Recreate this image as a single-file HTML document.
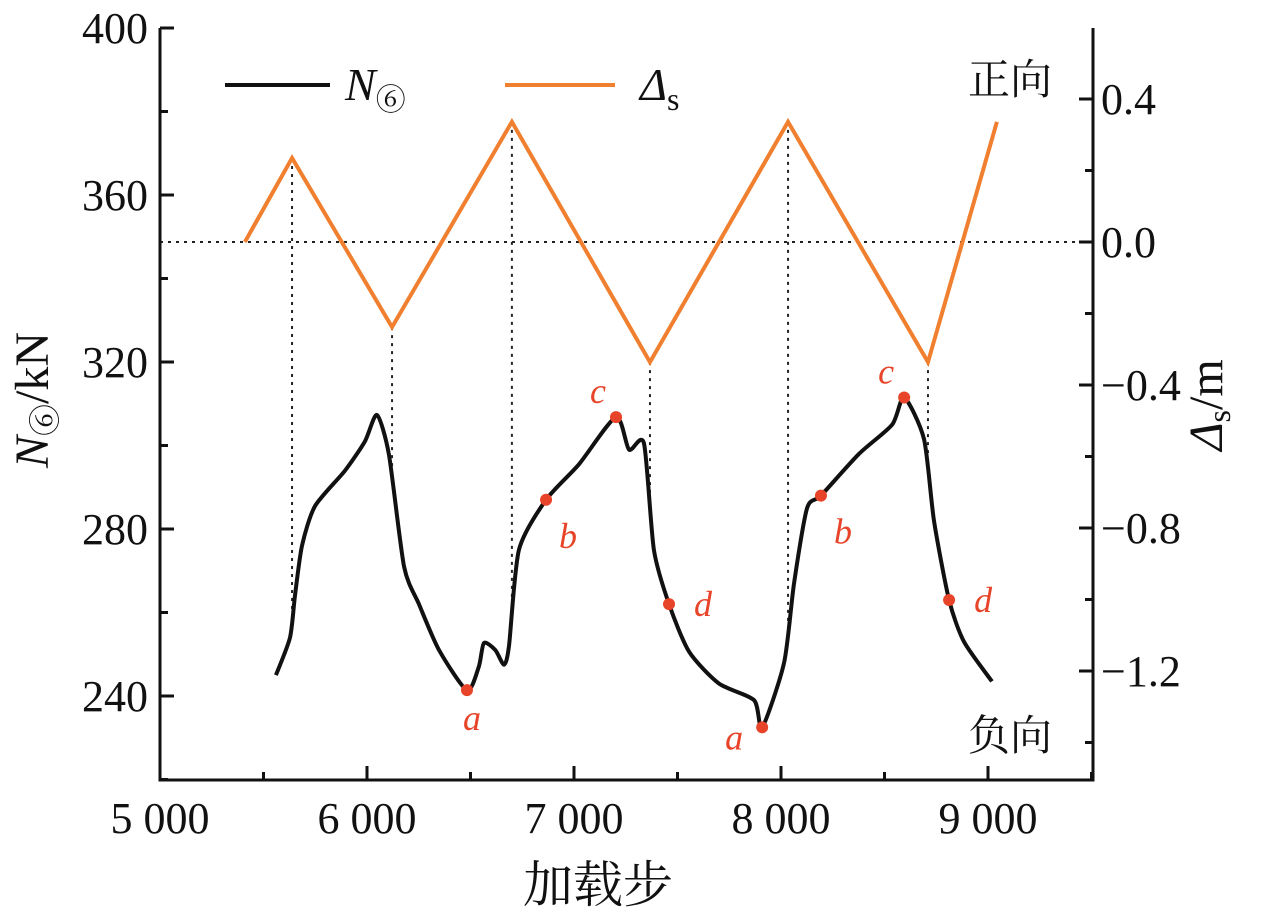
<!DOCTYPE html>
<html><head><meta charset="utf-8"><style>
body{margin:0;background:#fff}
svg text{font-family:"Liberation Serif","Noto Serif CJK SC",serif;fill:#111}
</style></head><body>
<svg id="chart" width="1266" height="911" viewBox="0 0 1266 911" xmlns="http://www.w3.org/2000/svg">
<g id="g"></g>
</svg>
<script>
const deltaSteps=[5410,5638,6121,6700,7367,8034,8710,9043];
const deltaVals=[0,0.235,-0.238,0.336,-0.336,0.336,-0.336,0.336];
const nSteps=[5560,5628,5652,5686,5749,5894,5990,6048,6106,6179,6251,6348,6483,6540,6565,6620,6662,6686,6734,6865,7024,7203,7266,7338,7386,7459,7556,7700,7870,7909,8015,8063,8126,8193,8377,8537,8595,8691,8739,8812,8884,9019];
const nVals=[245,254,264,276,285.5,294,301,307.3,297.8,271,262,251,241.4,247,252.7,251,247.5,252,275,287,295.5,306.8,299,300.5,275,262,250.6,243,239,232.5,248,267,285,288,298,305,311.5,301.5,282,263,253,243.5];
const markerSteps=[6483,6865,7203,7459,7909,8193,8595,8812];
const markerVals=[241.4,287,306.8,262,232.5,288,311.5,263];
const markerLabels=['a','b','c','d','a','b','c','d'];
const xTicks=[5000,6000,7000,8000,9000];
const xTickLabels=['5 000','6 000','7 000','8 000','9 000'];
const yTicks=[240,280,320,360,400];
const y2Ticks=[-1.2,-0.8,-0.4,0,0.4];
const y2TickLabels=['\u22121.2','\u22120.8','\u22120.4','0.0','0.4'];

const L=160,R=1093,T=28,B=780;
const X=v=>L+(v-5000)*(207/1000);
const Y=v=>696-(v-240)*(167/40);
const Y2=v=>242-v*(143/0.4);
const g=document.getElementById('g');
const NS='http://www.w3.org/2000/svg';
function mk(tag,attrs,txt){const e=document.createElementNS(NS,tag);for(const k in attrs)e.setAttribute(k,attrs[k]);if(txt!==undefined)e.textContent=txt;g.appendChild(e);return e;}
function smooth(pts){let d='M'+pts[0][0]+','+pts[0][1];const k=0.12;for(let i=0;i<pts.length-1;i++){const p0=pts[i-1]||pts[i],p1=pts[i],p2=pts[i+1],p3=pts[i+2]||p2;d+=` C${p1[0]+(p2[0]-p0[0])*k},${p1[1]+(p2[1]-p0[1])*k} ${p2[0]-(p3[0]-p1[0])*k},${p2[1]-(p3[1]-p1[1])*k} ${p2[0]},${p2[1]}`;}return d;}

let e=mk('line',{x1:L,x2:R,y1:Y2(0),y2:Y2(0),stroke:'#222','stroke-width':2,'stroke-dasharray':'3,5'});


function interpN(s){for(let i=0;i<nSteps.length-1;i++){if(s>=nSteps[i]&&s<=nSteps[i+1]){const t=(s-nSteps[i])/(nSteps[i+1]-nSteps[i]);return nVals[i]+t*(nVals[i+1]-nVals[i]);}}return nVals[0];}
for(let i=1;i<deltaSteps.length-1;i++){
  e=mk('line',{x1:X(deltaSteps[i]),x2:X(deltaSteps[i]),y1:Y2(deltaVals[i]),y2:Y(interpN(deltaSteps[i])),stroke:'#222','stroke-width':2,'stroke-dasharray':'3,5'});
  
  
}
e=mk('polyline',{points:deltaSteps.map((s,i)=>X(s)+','+Y2(deltaVals[i])).join(' '),fill:'none',stroke:'#f08030','stroke-width':4,'stroke-linejoin':'miter'});


e=mk('path',{d:smooth(nSteps.map((s,i)=>[X(s),Y(nVals[i])])),fill:'none',stroke:'#111','stroke-width':4,'stroke-linejoin':'round'});


markerSteps.forEach((s,i)=>{
  const cx=X(s),cy=Y(markerVals[i]);
  e=mk('circle',{cx:cx,cy:cy,r:6,fill:'#e8442a'});
  
  
  const l=markerLabels[i];
  let dx=0,dy=0;
  if(l==='a'){dx=(i===0?5:-28);dy=(i===0?40:22);}
  if(l==='b'){dx=22;dy=48;}
  if(l==='c'){dx=-18;dy=-14;}
  if(l==='d'){dx=34;dy=12;}
  e=mk('text',{x:cx+dx,y:cy+dy,'text-anchor':'middle','font-size':36,'font-style':'italic',style:'fill:#e8442a'},l);
  
  
});
e=mk('path',{d:`M${L},${T} V${B} H${R} V${T}`,fill:'none',stroke:'#111','stroke-width':3});


xTicks.forEach((v,i)=>{
  e=mk('line',{x1:X(v),x2:X(v),y1:B,y2:B-14,stroke:'#111','stroke-width':3});
  
  
  e=mk('line',{x1:X(v+500),x2:X(v+500),y1:B,y2:B-8,stroke:'#111','stroke-width':3});
  
  
  e=mk('text',{x:X(v),y:B+53,'text-anchor':'middle','font-size':44},xTickLabels[i]);
  
  
});
yTicks.forEach(v=>{
  e=mk('line',{x1:L,x2:L+14,y1:Y(v),y2:Y(v),stroke:'#111','stroke-width':3});
  
  
  e=mk('line',{x1:L,x2:L+8,y1:Y(v-20),y2:Y(v-20),stroke:'#111','stroke-width':3});
  
  
  e=mk('text',{x:L-12,y:Y(v)+15,'text-anchor':'end','font-size':44},String(v));
  
  
});
y2Ticks.forEach((v,i)=>{
  e=mk('line',{x1:R,x2:R-14,y1:Y2(v),y2:Y2(v),stroke:'#111','stroke-width':3});
  
  
  e=mk('line',{x1:R,x2:R-8,y1:Y2(v-0.2),y2:Y2(v-0.2),stroke:'#111','stroke-width':3});
  
  
  e=mk('text',{x:R+8,y:Y2(v)+15,'font-size':44},y2TickLabels[i]);
  
  
});
</script>
<svg style="position:absolute;left:0;top:0" width="1266" height="911">
<line x1="225" y1="85" x2="330" y2="85" stroke="#111" stroke-width="4"/>
<text x="345" y="100" font-size="46" font-style="italic">N<tspan font-size="30" font-style="normal" dy="10">⑥</tspan></text>
<line x1="505" y1="85" x2="615" y2="85" stroke="#f08030" stroke-width="4"/>
<text x="640" y="100" font-size="46" font-style="italic">Δ<tspan font-size="32" font-style="normal" dy="10">s</tspan></text>
<text x="968" y="94" font-size="42">正向</text>
<text x="968" y="750" font-size="42">负向</text>
<text x="598" y="902" font-size="50" text-anchor="middle">加载步</text>
<text transform="translate(48,400) rotate(-90)" font-size="48" text-anchor="middle"><tspan font-style="italic">N</tspan><tspan font-size="32" dy="8">⑥</tspan><tspan dy="-8">/kN</tspan></text>
<text transform="translate(1222,405) rotate(-90)" font-size="48" text-anchor="middle"><tspan font-style="italic">Δ</tspan><tspan font-size="32" dy="8">s</tspan><tspan dy="-8">/m</tspan></text>
</svg>
</body></html>
